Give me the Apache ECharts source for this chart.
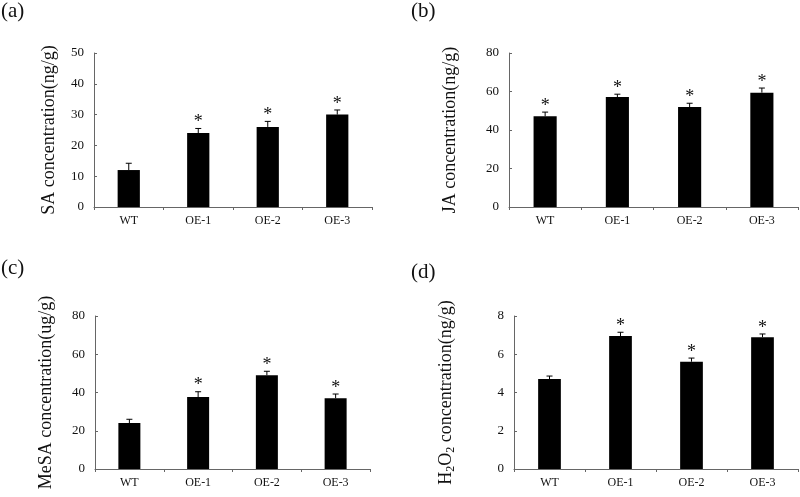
<!DOCTYPE html>
<html><head><meta charset="utf-8">
<script src="https://cdn.jsdelivr.net/npm/echarts@6/dist/echarts.min.js"></script>
<style>html,body{margin:0;padding:0;background:#fff}#c{width:800px;height:497px}</style>
</head><body><div id="c"></div>
<script>
const categories = ['WT', 'OE-1', 'OE-2', 'OE-3'];
const saValues = [12, 24, 26, 30];
const saErrTop = [14.2, 25.5, 27.8, 31.5];
const saStars = [false, true, true, true];
const jaValues = [47.1, 57.1, 51.9, 59.4];
const jaErrTop = [49.3, 58.6, 53.9, 61.8];
const jaStars = [true, true, true, true];
const mesaValues = [24, 37.6, 49, 37];
const mesaErrTop = [26, 40.4, 51.1, 39.2];
const mesaStars = [false, true, true, true];
const h2o2Values = [4.7, 6.95, 5.61, 6.89];
const h2o2ErrTop = [4.86, 7.15, 5.8, 7.06];
const h2o2Stars = [false, true, true, true];

const yTicks = {a: [0, 50, 10], b: [0, 80, 20], c: [0, 80, 20], d: [0, 8, 2]};

const FONT = '"Liberation Serif", "Times New Roman", serif';
const chart = echarts.init(document.getElementById('c'), null, {renderer: 'canvas'});

const grids = [
  {left: 94, width: 278, top: 53, height: 154},
  {left: 509, width: 289, top: 53, height: 154},
  {left: 95, width: 275, top: 316, height: 153},
  {left: 514, width: 284, top: 316, height: 153}
];
const panels = [
  {vals: saValues, err: saErrTop, stars: saStars, t: yTicks.a, name: 'SA concentration(ng/g)', gap: 36},
  {vals: jaValues, err: jaErrTop, stars: jaStars, t: yTicks.b, name: 'JA concentration(ng/g)', gap: 50},
  {vals: mesaValues, err: mesaErrTop, stars: mesaStars, t: yTicks.c, name: 'MeSA concentration(ug/g)', gap: 40},
  {vals: h2o2Values, err: h2o2ErrTop, stars: h2o2Stars, t: yTicks.d, name: '{n|H}{s|2}{n|O}{s|2}{n| concentration(ng/g)}', gap: 57}
];
const axisColor = '#666';
const xAxes = [], yAxes = [], series = [];
panels.forEach((p, i) => {
  xAxes.push({
    gridIndex: i, type: 'category', data: categories,
    axisLine: {lineStyle: {color: axisColor, width: 1}},
    axisTick: {show: true, inside: false, length: 3, lineStyle: {color: axisColor}},
    axisLabel: {fontFamily: FONT, fontSize: 12, color: '#111', margin: 8}
  });
  yAxes.push({
    gridIndex: i, type: 'value', min: p.t[0], max: p.t[1], interval: p.t[2],
    splitLine: {show: false},
    axisLine: {show: true, lineStyle: {color: axisColor, width: 1}},
    axisTick: {show: true, inside: true, length: 3, lineStyle: {color: axisColor}},
    axisLabel: {fontFamily: FONT, fontSize: 13, color: '#111', margin: 10},
    name: p.name, nameLocation: 'middle', nameGap: p.gap, nameRotate: 90,
    nameTextStyle: {fontFamily: FONT, fontSize: 18, color: '#111',
      rich: {n: {fontFamily: FONT, fontSize: 18, color: '#111'},
             s: {fontFamily: FONT, fontSize: 12, color: '#111', verticalAlign: 'bottom', padding: [9, 0, 0, 0]}}}
  });
  series.push({
    type: 'bar', xAxisIndex: i, yAxisIndex: i, data: p.vals, barWidth: '32%',
    itemStyle: {color: '#000'}, silent: true, animation: false
  });
  series.push({
    type: 'custom', xAxisIndex: i, yAxisIndex: i, animation: false, silent: true,
    data: p.vals.map((v, k) => [k, v, p.err[k], p.stars[k] ? 1 : 0]),
    renderItem: function (params, api) {
      const x = api.value(0);
      const lo = api.coord([x, api.value(1)]);
      const hi = api.coord([x, api.value(2)]);
      const children = [
        {type: 'line', shape: {x1: lo[0], y1: lo[1], x2: hi[0], y2: hi[1]}, style: {stroke: '#000', lineWidth: 1}},
        {type: 'line', shape: {x1: hi[0] - 3, y1: hi[1], x2: hi[0] + 3, y2: hi[1]}, style: {stroke: '#000', lineWidth: 1}}
      ];
      if (api.value(3)) {
        children.push({type: 'text', style: {text: '*', x: hi[0], y: hi[1] + 3, textAlign: 'center', textVerticalAlign: 'bottom',
          font: '18px ' + FONT, fill: '#111'}});
      }
      return {type: 'group', children: children};
    }
  });
});

chart.setOption({
  animation: false,
  backgroundColor: '#fff',
  grid: grids,
  xAxis: xAxes,
  yAxis: yAxes,
  series: series,
  graphic: [
    {type: 'text', left: 1, top: 1, style: {text: '(a)', font: '21px ' + FONT, fill: '#111'}},
    {type: 'text', left: 411, top: 1, style: {text: '(b)', font: '21px ' + FONT, fill: '#111'}},
    {type: 'text', left: 1, top: 258, style: {text: '(c)', font: '21px ' + FONT, fill: '#111'}},
    {type: 'text', left: 411, top: 262, style: {text: '(d)', font: '21px ' + FONT, fill: '#111'}}
  ]
});
</script>
</body></html>
